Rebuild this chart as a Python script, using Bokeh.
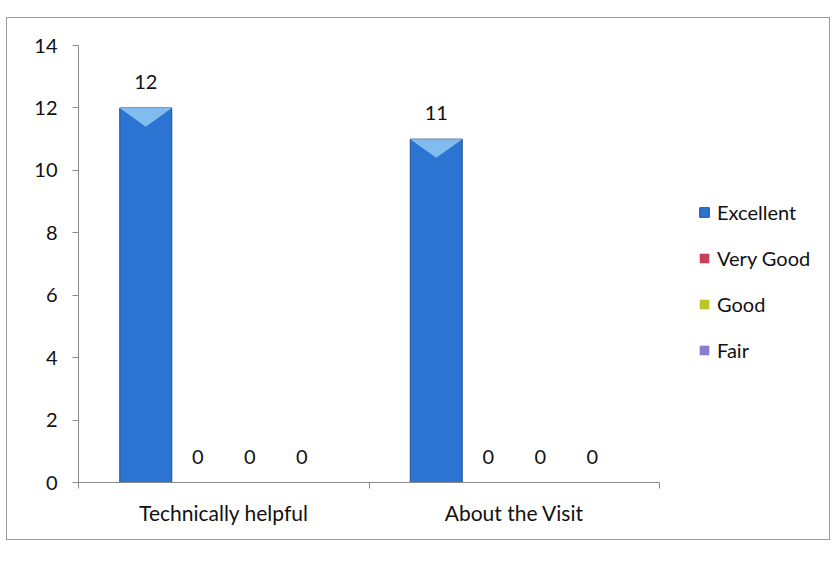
from bokeh.plotting import figure
from bokeh.models import (ColumnDataSource, FixedTicker, Range1d, Legend, LegendItem)
from bokeh.core.properties import value
from bokeh.embed import file_html
from bokeh.resources import INLINE

categories = ["Technically helpful", "About the Visit"]
series = ["Excellent", "Very Good", "Good", "Fair"]
excellent = [12, 11]
very_good = [0, 0]
good = [0, 0]
fair = [0, 0]
values = [excellent, very_good, good, fair]
colors = ["#2c74d2", "#c8405c", "#b8c62a", "#8a7cd0"]
y_ticks = [0, 2, 4, 6, 8, 10, 12, 14]

FONT = "Lato"
bar_w = 0.179

W, H = 824, 523
BL, BR, BT, BB = 71, 5, 27, 59
frame_w = W - BL - BR
plot_w = 581  # pixel width of the category axis
n = len(categories)

p = figure(width=W, height=H, output_backend="svg", toolbar_location=None,
           x_range=Range1d(0, n * frame_w / plot_w), y_range=Range1d(0, 14),
           min_border_left=BL, min_border_right=BR, min_border_top=BT, min_border_bottom=BB)
p.margin = (17, 0, 0, 6)
p.styles = {"border": "1px solid #9a9a9a"}
p.outline_line_color = None
p.xgrid.visible = False
p.ygrid.visible = False

renderers = []
for i, (name, vals, col) in enumerate(zip(series, values, colors)):
    xs = [g + 0.5 + (i - 1.5) * bar_w for g in range(n)]
    src = ColumnDataSource(dict(x=xs, top=vals, lab=[str(v) for v in vals]))
    r = p.vbar(x="x", top="top", width=bar_w, source=src, fill_color=col,
               line_color="#1f4f8f" if i == 0 else None, line_width=1)
    renderers.append(r)
    # bevel highlight on top
    tri_x = [[x - bar_w / 2, x + bar_w / 2, x] for x, v in zip(xs, vals) if v > 0]
    tri_y = [[v, v, v - 0.6] for v in vals if v > 0]
    if tri_x:
        p.patches(tri_x, tri_y, fill_color="#8cc4f2", line_color=None, fill_alpha=0.9)
    p.text(x="x", y="top", text="lab", source=src, text_align="center",
           text_baseline="bottom", y_offset=-19, text_font=value(FONT),
           text_font_size="20px", text_color="#111111")

legend = Legend(items=[LegendItem(label=s, renderers=[r]) for s, r in zip(series, renderers)],
                location=(620, 120), orientation="vertical",
                label_text_font=FONT, label_text_font_size="20px", label_text_color="#111111",
                glyph_width=12, glyph_height=12, label_standoff=7, spacing=22,
                padding=0, margin=0, border_line_color=None, background_fill_alpha=0)
p.add_layout(legend, "center")

# y axis
p.yaxis.ticker = FixedTicker(ticks=y_ticks)
p.yaxis.axis_line_color = "#8a8a8a"
p.yaxis.major_tick_line_color = "#8a8a8a"
p.yaxis.major_tick_out = 6
p.yaxis.major_tick_in = 0
p.yaxis.minor_tick_line_color = None
p.yaxis.major_label_text_font = FONT
p.yaxis.major_label_text_font_size = "20px"
p.yaxis.major_label_text_color = "#111111"
p.yaxis.major_label_standoff = 15

# x axis
p.xaxis.bounds = (0, n)
p.xaxis.ticker = FixedTicker(ticks=[g + 0.5 for g in range(n)],
                             minor_ticks=list(range(n + 1)))
p.xaxis.major_label_overrides = {g + 0.5: c for g, c in enumerate(categories)}
p.xaxis.axis_line_color = "#8a8a8a"
p.xaxis.major_tick_line_color = None
p.xaxis.minor_tick_line_color = "#8a8a8a"
p.xaxis.minor_tick_out = 6
p.xaxis.minor_tick_in = 0
p.xaxis.major_label_text_font = FONT
p.xaxis.major_label_text_font_size = "21px"
p.xaxis.major_label_text_color = "#111111"
p.xaxis.major_label_standoff = 11

open("out.html", "w").write(file_html(p, INLINE))
